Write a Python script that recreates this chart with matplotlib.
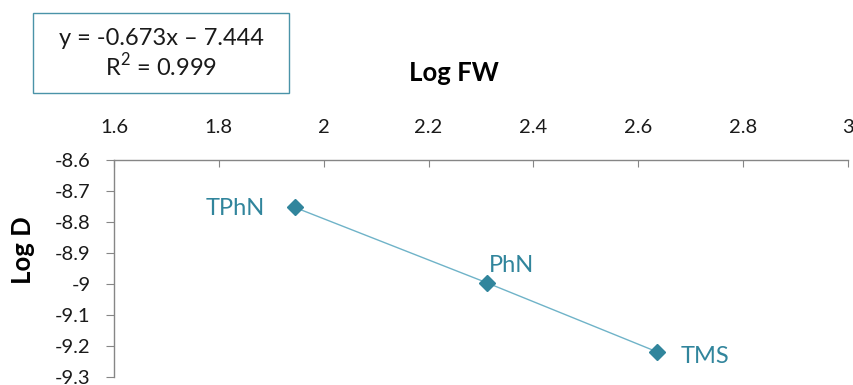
import matplotlib
matplotlib.use("Agg")
import matplotlib.pyplot as plt
from matplotlib.patches import Rectangle

# Diffusion data: log formula weight vs. log diffusion coefficient
compounds = ["TPhN", "PhN", "TMS"]
log_fw = [1.945, 2.311, 2.636]
log_d = [-8.753, -8.996, -9.219]
x_ticks = [1.6, 1.8, 2.0, 2.2, 2.4, 2.6, 2.8, 3.0]
x_tick_labels = ["1.6", "1.8", "2", "2.2", "2.4", "2.6", "2.8", "3"]
y_ticks = [-8.6, -8.7, -8.8, -8.9, -9.0, -9.1, -9.2, -9.3]
y_tick_labels = ["-8.6", "-8.7", "-8.8", "-8.9", "-9", "-9.1", "-9.2", "-9.3"]
equation = "y = -0.673x – 7.444"
r_squared = "R$^2$ = 0.999"

plt.rcParams["font.family"] = ["Lato", "DejaVu Sans"]
plt.rcParams["mathtext.fontset"] = "custom"
plt.rcParams["mathtext.rm"] = "Lato"

W, H, DPI = 854, 385, 100
fig = plt.figure(figsize=(W / DPI, H / DPI), dpi=DPI)
ax_l, ax_r, ax_t, ax_b = 114, 848, 160, 377
ax = fig.add_axes([ax_l / W, 1 - ax_b / H, (ax_r - ax_l) / W, (ax_b - ax_t) / H])

teal = "#31859C"
line_col = "#6FB3C8"
grey = "#868686"
text_col = "#1A1A1A"

ax.plot(log_fw, log_d, color=line_col, lw=1.0, zorder=2)
ax.plot(log_fw, log_d, ls="none", marker="D", ms=8, color=teal, zorder=3)

# data-label offsets (points) relative to each marker
offsets = {"TPhN": (-21.5, -5.8, "right"),
           "PhN": (1.5, 7.7, "left"),
           "TMS": (16.8, -8.1, "left")}
for name, x, y in zip(compounds, log_fw, log_d):
    dx, dy, ha = offsets[name]
    ax.annotate(name, (x, y), xytext=(dx, dy), textcoords="offset points",
                ha=ha, va="baseline", color=teal, fontsize=17)

ax.set_xlim(1.6, 3.0)
ax.set_ylim(-9.3, -8.6)
ax.xaxis.tick_top()
ax.xaxis.set_label_position("top")
ax.set_xticks(x_ticks)
ax.set_xticklabels(x_tick_labels)
ax.set_yticks(y_ticks)
ax.set_yticklabels(y_tick_labels)
ax.tick_params(axis="x", direction="in", length=5, color=grey, labelsize=14.5,
               labelcolor=text_col, pad=17)
ax.tick_params(axis="y", direction="out", length=5.8, color=grey, labelsize=14.5,
               labelcolor=text_col, pad=11)

for side in ["right", "bottom"]:
    ax.spines[side].set_visible(False)
for side in ["top", "left"]:
    ax.spines[side].set_color(grey)
    ax.spines[side].set_linewidth(1.0)

ax.set_xlabel("Log FW", fontsize=18.5, fontweight="bold", color="black")
ax.xaxis.set_label_coords((454 - ax_l) / (ax_r - ax_l), (ax_b - 73) / (ax_b - ax_t))
ax.xaxis.label.set_verticalalignment("center")
ax.set_ylabel("Log D", fontsize=18.5, fontweight="bold", color="black")
ax.yaxis.set_label_coords((23 - ax_l) / (ax_r - ax_l), (ax_b - 250) / (ax_b - ax_t))
ax.yaxis.label.set_verticalalignment("center")

# regression equation box
box_l, box_r, box_t, box_b = 33, 289, 13, 93
fig.patches.append(Rectangle((box_l / W, 1 - box_b / H), (box_r - box_l) / W,
                             (box_b - box_t) / H, transform=fig.transFigure,
                             fc="white", ec="#4A93A8", lw=1.0))
cx = (box_l + box_r) / 2 / W
fig.text(cx, 1 - 45 / H, equation, ha="center", va="baseline", fontsize=17, color=text_col)
fig.text(cx, 1 - 76 / H, r_squared, ha="center", va="baseline", fontsize=17, color=text_col)

fig.savefig("out.png", dpi=DPI)
